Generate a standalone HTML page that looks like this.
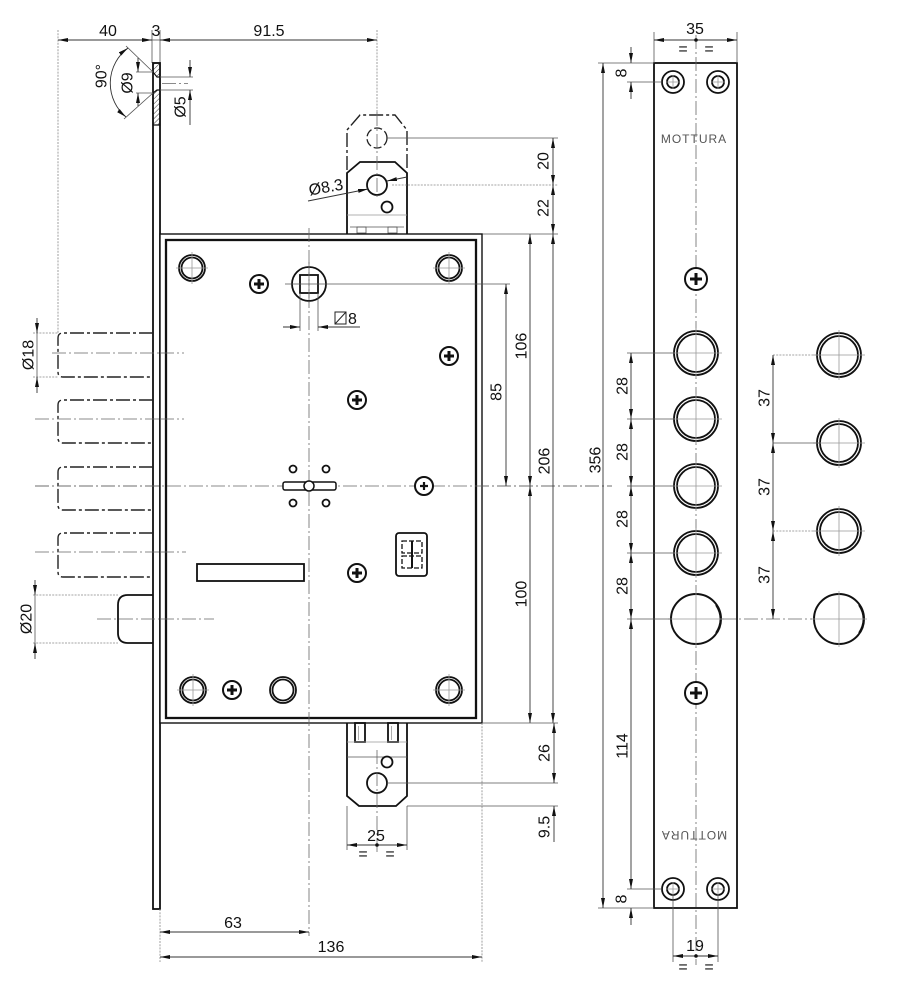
<!DOCTYPE html>
<html><head><meta charset="utf-8"><style>
html,body{margin:0;padding:0;background:#fff;}
svg{display:block}
text{font-family:"Liberation Sans",Arial,sans-serif;font-size:16px;fill:#111;}
.o{stroke:#111;stroke-width:1.8;fill:none}
.o2{stroke:#111;stroke-width:2.3;fill:none}
.t{stroke:#555;stroke-width:0.8;fill:none}
.g{stroke:#999;stroke-width:0.8;fill:none}
.x{stroke:#888;stroke-width:0.8;stroke-dasharray:2 1.2;fill:none}
.c{stroke:#666;stroke-width:0.8;stroke-dasharray:14 3 2 3;fill:none}
.ph{stroke:#222;stroke-width:1.4;stroke-dasharray:14 3 3 3;fill:none}
.d{stroke:#333;stroke-width:0.9;fill:none}
.sc{stroke:#111;stroke-width:2;fill:#fff}
.cr{stroke:#111;stroke-width:3;}
.mt{font-size:12px;letter-spacing:1px;fill:#555;}
</style></head><body>
<svg width="905" height="1000" viewBox="0 0 905 1000" xmlns="http://www.w3.org/2000/svg">
<defs>
<marker id="a" viewBox="0 0 10 4" refX="10" refY="2" markerWidth="10" markerHeight="4" markerUnits="userSpaceOnUse" orient="auto-start-reverse"><path d="M0,0L10,2L0,4z" fill="#111"/></marker>
<pattern id="h" width="3.5" height="3.5" patternUnits="userSpaceOnUse" patternTransform="rotate(45)"><line x1="0" y1="0" x2="0" y2="3.5" stroke="#222" stroke-width="0.9"/></pattern>
</defs>

<!-- ============ TOP DIMENSIONS ============ -->
<line class="x" x1="58" y1="30" x2="58" y2="333"/>
<line class="t" x1="152" y1="30" x2="152" y2="63"/>
<line class="t" x1="160" y1="30" x2="160" y2="63"/>
<line class="x" x1="377" y1="30" x2="377" y2="112"/>
<line class="d" x1="58" y1="40" x2="152" y2="40" marker-start="url(#a)" marker-end="url(#a)"/>
<line class="t" x1="152" y1="40" x2="160" y2="40"/>
<line class="d" x1="160" y1="40" x2="377" y2="40" marker-start="url(#a)" marker-end="url(#a)"/>
<text x="108" y="36" text-anchor="middle">40</text>
<text x="156" y="36" text-anchor="middle">3</text>
<text x="269" y="36" text-anchor="middle">91.5</text>

<!-- ============ FACEPLATE SIDE STRIP ============ -->
<rect x="153" y="63" width="7" height="846" class="o" stroke-width="1.5" fill="#fff"/>
<polygon points="153,63 160,63 160,77 157,77 153,72" fill="url(#h)" stroke="#111" stroke-width="1.2"/>
<polygon points="153,93 157,90 160,90 160,125 153,125" fill="url(#h)" stroke="#111" stroke-width="1.2"/>
<line class="t" x1="160" y1="77" x2="193" y2="77"/>
<line class="t" x1="160" y1="90" x2="193" y2="90"/>
<line class="c" x1="162" y1="83.5" x2="188" y2="83.5"/>
<line class="d" x1="190" y1="60" x2="190" y2="77" marker-end="url(#a)"/>
<line class="d" x1="190" y1="125" x2="190" y2="90" marker-end="url(#a)"/>
<text x="181" y="107" transform="rotate(-90 181 107)" text-anchor="middle" dominant-baseline="central">Ø5</text>
<line class="t" x1="136" y1="72" x2="153" y2="72"/>
<line class="t" x1="136" y1="93" x2="153" y2="93"/>
<line class="d" x1="138" y1="58" x2="138" y2="72" marker-end="url(#a)"/>
<line class="d" x1="138" y1="106" x2="138" y2="93" marker-end="url(#a)"/>
<text x="128" y="83" transform="rotate(-90 128 83)" text-anchor="middle" dominant-baseline="central">Ø9</text>
<line class="t" x1="153" y1="72" x2="126" y2="46"/>
<line class="t" x1="153" y1="93" x2="124" y2="119"/>
<path class="d" d="M128,48 A44,44 0 0 0 126,117" marker-start="url(#a)" marker-end="url(#a)"/>
<text x="102" y="76" transform="rotate(-90 102 76)" text-anchor="middle" dominant-baseline="central">90°</text>

<!-- ============ BOLTS (phantom) ============ -->
<path class="ph" d="M153,333 H63 Q58,333 58,338 V372 Q58,377 63,377 H153"/>
<path class="ph" d="M153,400 H63 Q58,400 58,405 V438 Q58,443 63,443 H153"/>
<path class="ph" d="M153,467 H63 Q58,467 58,472 V505 Q58,510 63,510 H153"/>
<path class="ph" d="M153,533 H63 Q58,533 58,538 V572 Q58,577 63,577 H153"/>
<line class="c" x1="52" y1="353" x2="182" y2="353"/>
<line class="c" x1="35" y1="419" x2="183" y2="419"/>
<line class="c" x1="35" y1="486" x2="612" y2="486"/>
<line class="c" x1="35" y1="552" x2="185" y2="552"/>
<line class="x" x1="33" y1="333" x2="58" y2="333"/>
<line class="x" x1="33" y1="377" x2="58" y2="377"/>
<line class="d" x1="37" y1="318" x2="37" y2="333" marker-end="url(#a)"/>
<line class="d" x1="37" y1="393" x2="37" y2="377" marker-end="url(#a)"/>
<line class="t" x1="37" y1="333" x2="37" y2="377"/>
<text x="29" y="355" transform="rotate(-90 29 355)" text-anchor="middle" dominant-baseline="central">Ø18</text>

<path class="o" d="M153,595 H128 Q118,595 118,605 V633 Q118,643 128,643 H153"/>
<line class="c" x1="97" y1="619" x2="214" y2="619"/>
<circle cx="181" cy="619" r="3.5" fill="none" stroke="#111" stroke-width="2.5"/>
<line class="x" x1="33" y1="595" x2="118" y2="595"/>
<line class="x" x1="33" y1="643" x2="118" y2="643"/>
<line class="d" x1="35" y1="580" x2="35" y2="595" marker-end="url(#a)"/>
<line class="d" x1="35" y1="659" x2="35" y2="643" marker-end="url(#a)"/>
<line class="t" x1="35" y1="595" x2="35" y2="643"/>
<text x="27" y="619" transform="rotate(-90 27 619)" text-anchor="middle" dominant-baseline="central">Ø20</text>

<!-- ============ TOP HOOK ============ -->
<path class="ph" d="M347,170 V130 L360,115 H395 L407,130 V170"/>
<circle cx="377" cy="138" r="10" fill="none" stroke="#222" stroke-width="1.3" stroke-dasharray="8 3"/>
<path class="o" d="M347,234 V173 L360,162 H395 L407,173 V234" fill="#fff"/>
<line class="g" x1="347" y1="215" x2="407" y2="215"/>
<line class="t" x1="350" y1="227" x2="404" y2="227"/>
<rect x="357" y="227" width="9" height="6" class="t"/>
<rect x="388" y="227" width="9" height="6" class="t"/>
<circle cx="377" cy="185" r="10" class="o"/>
<circle cx="387" cy="207" r="5.5" class="o" stroke-width="1.5"/>
<line class="c" x1="377" y1="112" x2="377" y2="200"/>
<line class="d" x1="308" y1="201" x2="368" y2="189" marker-end="url(#a)"/>
<line class="d" x1="407" y1="177" x2="387" y2="181" marker-end="url(#a)"/>
<text x="326" y="188" transform="rotate(-10 326 188)" text-anchor="middle" dominant-baseline="central">Ø8.3</text>
<line class="t" x1="387" y1="138" x2="558" y2="138"/>
<line class="x" x1="392" y1="185" x2="558" y2="185"/>
<line class="t" x1="482" y1="234" x2="558" y2="234"/>
<line class="d" x1="553" y1="138" x2="553" y2="185" marker-start="url(#a)" marker-end="url(#a)"/>
<line class="d" x1="553" y1="185" x2="553" y2="234" marker-start="url(#a)" marker-end="url(#a)"/>
<text x="544" y="161" transform="rotate(-90 544 161)" text-anchor="middle" dominant-baseline="central">20</text>
<text x="544" y="208" transform="rotate(-90 544 208)" text-anchor="middle" dominant-baseline="central">22</text>

<!-- ============ MAIN BODY ============ -->
<rect x="160" y="234" width="322" height="489" fill="#fff" stroke="#111" stroke-width="1.4"/>
<rect x="166" y="240" width="310" height="478" class="o2"/>
<line class="c" x1="309" y1="228" x2="309" y2="936"/>
<line class="c" x1="35" y1="486" x2="612" y2="486"/>
<line class="c" x1="160" y1="353" x2="184" y2="353"/>
<line class="c" x1="160" y1="419" x2="184" y2="419"/>
<line class="c" x1="160" y1="552" x2="186" y2="552"/>
<line class="c" x1="160" y1="619" x2="214" y2="619"/>

<g class="o" stroke-width="1.5">
<circle cx="192" cy="268" r="13"/><circle cx="192" cy="268" r="10.5"/>
<circle cx="449" cy="268" r="13"/><circle cx="449" cy="268" r="10.5"/>
<circle cx="193" cy="690" r="13"/><circle cx="193" cy="690" r="10.5"/>
<circle cx="449" cy="690" r="13"/><circle cx="449" cy="690" r="10.5"/>
<circle cx="283" cy="690" r="13"/><circle cx="283" cy="690" r="10.5"/>
</g>
<g class="g">
<path d="M176,268H208M192,252V284"/>
<path d="M433,268H465M449,252V284"/>
<path d="M177,690H209M193,674V706"/>
<path d="M433,690H465M449,674V706"/>
</g>

<g>
<circle cx="259" cy="284" r="9" class="sc"/><path class="cr" d="M254,284H264M259,279V289"/>
<circle cx="449" cy="356" r="9" class="sc"/><path class="cr" d="M444,356H454M449,351V361"/>
<circle cx="357" cy="400" r="9" class="sc"/><path class="cr" d="M352,400H362M357,395V405"/>
<circle cx="357" cy="573" r="9" class="sc"/><path class="cr" d="M352,573H362M357,568V578"/>
<circle cx="232" cy="690" r="9" class="sc"/><path class="cr" d="M227,690H237M232,685V695"/>
<circle cx="424" cy="486" r="9" class="sc" stroke-width="1.6"/><path d="M420,486H428M424,482V490" stroke="#111" stroke-width="2.2"/>
</g>

<circle cx="309" cy="284" r="17" class="o" fill="#fff"/>
<rect x="300" y="275" width="18" height="18" class="o"/>
<line class="t" x1="285" y1="284" x2="510" y2="284"/>
<line class="c" x1="309" y1="262" x2="309" y2="306"/>
<line class="t" x1="300" y1="293" x2="300" y2="331"/>
<line class="t" x1="318" y1="293" x2="318" y2="331"/>
<line class="d" x1="283" y1="327" x2="300" y2="327" marker-end="url(#a)"/>
<line class="d" x1="360" y1="327" x2="318" y2="327" marker-end="url(#a)"/>
<rect x="335" y="312" width="11" height="12" fill="none" stroke="#222" stroke-width="1"/>
<line x1="335" y1="324" x2="346" y2="312" stroke="#222" stroke-width="1"/>
<text x="348" y="324">8</text>

<rect x="283" y="482" width="53" height="8" rx="2" fill="#fff" stroke="#111" stroke-width="1.5"/>
<circle cx="309" cy="486" r="5" fill="#fff" stroke="#111" stroke-width="1.5"/>
<g class="o" stroke-width="1.4">
<circle cx="293" cy="469" r="3.5"/><circle cx="326" cy="469" r="3.5"/>
<circle cx="293" cy="503" r="3.5"/><circle cx="326" cy="503" r="3.5"/>
</g>

<rect x="197" y="564" width="107" height="17" class="o" stroke-width="1.5"/>

<rect x="396" y="533" width="31" height="43" rx="3" class="o"/>
<rect x="402" y="541" width="20" height="12" fill="none" stroke="#111" stroke-width="1.3" stroke-dasharray="5 2"/>
<rect x="402" y="556" width="20" height="12" fill="none" stroke="#111" stroke-width="1.3" stroke-dasharray="5 2"/>
<line x1="412" y1="541" x2="412" y2="568" stroke="#111" stroke-width="2"/>

<line class="d" x1="506" y1="284" x2="506" y2="486" marker-start="url(#a)" marker-end="url(#a)"/>
<line class="d" x1="530" y1="234" x2="530" y2="486" marker-start="url(#a)" marker-end="url(#a)"/>
<line class="d" x1="530" y1="486" x2="530" y2="723" marker-start="url(#a)" marker-end="url(#a)"/>
<line class="d" x1="553" y1="234" x2="553" y2="723" marker-start="url(#a)" marker-end="url(#a)"/>
<line class="t" x1="482" y1="723" x2="558" y2="723"/>
<text x="497" y="392" transform="rotate(-90 497 392)" text-anchor="middle" dominant-baseline="central">85</text>
<text x="522" y="346" transform="rotate(-90 522 346)" text-anchor="middle" dominant-baseline="central">106</text>
<text x="522" y="594" transform="rotate(-90 522 594)" text-anchor="middle" dominant-baseline="central">100</text>
<text x="545" y="461" transform="rotate(-90 545 461)" text-anchor="middle" dominant-baseline="central">206</text>

<!-- ============ BOTTOM HOOK ============ -->
<path class="o" d="M347,723 V796 L359,806 H396 L407,796 V723" fill="#fff"/>
<rect x="355" y="723" width="10" height="19" class="o" stroke-width="1.4"/>
<rect x="388" y="723" width="10" height="19" class="o" stroke-width="1.4"/>
<line x1="358.5" y1="726" x2="358.5" y2="740" class="g"/>
<line x1="391.5" y1="726" x2="391.5" y2="740" class="g"/>
<line class="g" x1="347" y1="742" x2="407" y2="742" stroke-width="1.5"/>
<line class="t" x1="347" y1="757" x2="407" y2="757"/>
<circle cx="377" cy="783" r="10" class="o"/>
<circle cx="387" cy="762" r="5.5" class="o" stroke-width="1.5"/>
<line class="c" x1="377" y1="750" x2="377" y2="852"/>
<line class="t" x1="387" y1="783" x2="558" y2="783"/>
<line class="t" x1="407" y1="806" x2="558" y2="806"/>
<line class="d" x1="554" y1="723" x2="554" y2="783" marker-start="url(#a)" marker-end="url(#a)"/>
<line class="d" x1="554" y1="842" x2="554" y2="806" marker-end="url(#a)"/>
<text x="545" y="753" transform="rotate(-90 545 753)" text-anchor="middle" dominant-baseline="central">26</text>
<text x="545" y="827" transform="rotate(-90 545 827)" text-anchor="middle" dominant-baseline="central">9.5</text>
<line class="t" x1="347" y1="806" x2="347" y2="850"/>
<line class="t" x1="407" y1="806" x2="407" y2="850"/>
<line class="d" x1="347" y1="845" x2="407" y2="845" marker-start="url(#a)" marker-end="url(#a)"/>
<circle cx="377" cy="845" r="1.8" fill="#111"/>
<text x="376" y="841" text-anchor="middle">25</text>
<text x="363" y="859" text-anchor="middle" font-size="13">=</text>
<text x="390" y="859" text-anchor="middle" font-size="13">=</text>

<line class="x" x1="160" y1="909" x2="160" y2="962"/>
<line class="x" x1="482" y1="723" x2="482" y2="962"/>
<line class="d" x1="160" y1="932" x2="309" y2="932" marker-start="url(#a)" marker-end="url(#a)"/>
<line class="d" x1="160" y1="957" x2="482" y2="957" marker-start="url(#a)" marker-end="url(#a)"/>
<text x="233" y="928" text-anchor="middle">63</text>
<text x="331" y="952" text-anchor="middle">136</text>

<!-- ============ FACEPLATE FRONT ============ -->
<rect x="654" y="63" width="83" height="845" class="o" fill="#fff"/>
<line class="c" x1="696" y1="35" x2="696" y2="965"/>
<line class="t" x1="654" y1="32" x2="654" y2="63"/>
<line class="t" x1="737" y1="32" x2="737" y2="63"/>
<line class="d" x1="654" y1="40" x2="737" y2="40" marker-start="url(#a)" marker-end="url(#a)"/>
<circle cx="696" cy="40" r="1.8" fill="#111"/>
<text x="695" y="34" text-anchor="middle">35</text>
<text x="683" y="54" text-anchor="middle" font-size="13">=</text>
<text x="709" y="54" text-anchor="middle" font-size="13">=</text>

<g class="o" stroke-width="1.5">
<circle cx="673" cy="82" r="11"/><circle cx="673" cy="82" r="6"/>
<circle cx="718" cy="82" r="11"/><circle cx="718" cy="82" r="6"/>
<circle cx="673" cy="889" r="11"/><circle cx="673" cy="889" r="6"/>
<circle cx="718" cy="889" r="11"/><circle cx="718" cy="889" r="6"/>
</g>
<g class="g">
<path d="M666,82H680M673,75V89M711,82H725M718,75V89"/>
<path d="M666,889H680M673,882V896M711,889H725M718,882V896"/>
</g>
<text x="694" y="143" class="mt" text-anchor="middle">MOTTURA</text>
<text x="702" y="839" class="mt" text-anchor="middle" transform="rotate(180 698 835)">MOTTURA</text>

<circle cx="696" cy="279" r="11" class="sc"/><path class="cr" d="M690,279H702M696,273V285"/>
<circle cx="696" cy="693" r="11" class="sc"/><path class="cr" d="M690,693H702M696,687V699"/>

<g class="o" stroke-width="1.8">
<circle cx="696" cy="353" r="22" fill="#fff"/><circle cx="696" cy="353" r="19"/>
<circle cx="696" cy="419" r="22" fill="#fff"/><circle cx="696" cy="419" r="19"/>
<circle cx="696" cy="486" r="22" fill="#fff"/><circle cx="696" cy="486" r="19"/>
<circle cx="696" cy="553" r="22" fill="#fff"/><circle cx="696" cy="553" r="19"/>
<circle cx="696" cy="619" r="25" fill="#fff" stroke-width="2"/>
</g>
<path d="M716,605 Q725,619 716,633" fill="none" stroke="#111" stroke-width="1.8"/>
<g class="g">
<path d="M670,353H722M696,328V378"/>
<path d="M670,419H722M696,394V444"/>
<path d="M670,486H722M696,461V511"/>
<path d="M670,553H722M696,528V578"/>
<path d="M668,619H724M696,591V647"/>
</g>

<line class="t" x1="598" y1="63" x2="654" y2="63"/>
<line class="t" x1="598" y1="908" x2="654" y2="908"/>
<line class="d" x1="603" y1="63" x2="603" y2="908" marker-start="url(#a)" marker-end="url(#a)"/>
<text x="596" y="460" transform="rotate(-90 596 460)" text-anchor="middle" dominant-baseline="central">356</text>

<line class="t" x1="627" y1="82" x2="662" y2="82"/>
<line class="d" x1="631" y1="47" x2="631" y2="63" marker-end="url(#a)"/>
<line class="d" x1="631" y1="99" x2="631" y2="82" marker-end="url(#a)"/>
<text x="622" y="73" transform="rotate(-90 622 73)" text-anchor="middle" dominant-baseline="central">8</text>

<g class="t">
<line x1="627" y1="353" x2="674" y2="353"/>
<line x1="627" y1="419" x2="674" y2="419"/>
<line x1="627" y1="486" x2="674" y2="486"/>
<line x1="627" y1="553" x2="674" y2="553"/>
<line x1="627" y1="619" x2="671" y2="619"/>
<line x1="627" y1="889" x2="662" y2="889"/>
</g>
<line class="d" x1="631" y1="353" x2="631" y2="419" marker-start="url(#a)" marker-end="url(#a)"/>
<line class="d" x1="631" y1="419" x2="631" y2="486" marker-start="url(#a)" marker-end="url(#a)"/>
<line class="d" x1="631" y1="486" x2="631" y2="553" marker-start="url(#a)" marker-end="url(#a)"/>
<line class="d" x1="631" y1="553" x2="631" y2="619" marker-start="url(#a)" marker-end="url(#a)"/>
<line class="d" x1="631" y1="619" x2="631" y2="889" marker-start="url(#a)" marker-end="url(#a)"/>
<line class="d" x1="631" y1="925" x2="631" y2="908" marker-end="url(#a)"/>
<text x="623" y="386" transform="rotate(-90 623 386)" text-anchor="middle" dominant-baseline="central">28</text>
<text x="623" y="452" transform="rotate(-90 623 452)" text-anchor="middle" dominant-baseline="central">28</text>
<text x="623" y="519" transform="rotate(-90 623 519)" text-anchor="middle" dominant-baseline="central">28</text>
<text x="623" y="586" transform="rotate(-90 623 586)" text-anchor="middle" dominant-baseline="central">28</text>
<text x="623" y="746" transform="rotate(-90 623 746)" text-anchor="middle" dominant-baseline="central">114</text>
<text x="622" y="899" transform="rotate(-90 622 899)" text-anchor="middle" dominant-baseline="central">8</text>

<line class="t" x1="673" y1="895" x2="673" y2="962"/>
<line class="t" x1="718" y1="895" x2="718" y2="962"/>
<line class="d" x1="673" y1="956" x2="718" y2="956" marker-start="url(#a)" marker-end="url(#a)"/>
<circle cx="696" cy="956" r="1.8" fill="#111"/>
<text x="695" y="951" text-anchor="middle">19</text>
<text x="683" y="972" text-anchor="middle" font-size="13">=</text>
<text x="709" y="972" text-anchor="middle" font-size="13">=</text>

<!-- ============ RIGHT COLUMN ============ -->
<g class="o" stroke-width="1.8">
<circle cx="839" cy="355" r="22"/><circle cx="839" cy="355" r="19"/>
<circle cx="839" cy="443" r="22"/><circle cx="839" cy="443" r="19"/>
<circle cx="839" cy="531" r="22"/><circle cx="839" cy="531" r="19"/>
<circle cx="839" cy="619" r="25" stroke-width="2"/>
</g>
<path d="M859,605 Q868,619 859,633" fill="none" stroke="#111" stroke-width="1.8"/>
<g class="g">
<path d="M813,355H865M839,330V380"/>
<path d="M813,443H865M839,418V468"/>
<path d="M813,531H865M839,506V556"/>
<path d="M811,619H867M839,591V647"/>
</g>
<line class="x" x1="773" y1="355" x2="820" y2="355"/>
<line class="t" x1="773" y1="443" x2="820" y2="443"/>
<line class="x" x1="773" y1="531" x2="820" y2="531"/>
<line class="c" x1="722" y1="619" x2="812" y2="619"/>
<line class="d" x1="773" y1="355" x2="773" y2="443" marker-start="url(#a)" marker-end="url(#a)"/>
<line class="d" x1="773" y1="443" x2="773" y2="531" marker-start="url(#a)" marker-end="url(#a)"/>
<line class="d" x1="773" y1="531" x2="773" y2="619" marker-start="url(#a)" marker-end="url(#a)"/>
<text x="765" y="398" transform="rotate(-90 765 398)" text-anchor="middle" dominant-baseline="central">37</text>
<text x="765" y="487" transform="rotate(-90 765 487)" text-anchor="middle" dominant-baseline="central">37</text>
<text x="765" y="575" transform="rotate(-90 765 575)" text-anchor="middle" dominant-baseline="central">37</text>
</svg>
</body></html>
